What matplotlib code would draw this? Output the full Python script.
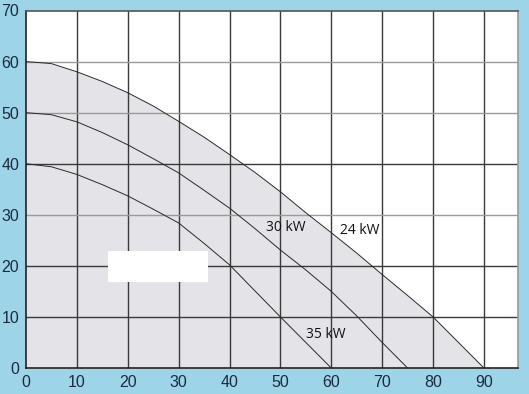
import matplotlib
matplotlib.use("Agg")
import matplotlib.pyplot as plt
from matplotlib.patches import Rectangle

# pump curves (flow vs. head)
x_24kw = [0, 5, 10, 15, 20, 25, 30, 35, 40, 45, 50, 55, 60, 65, 70, 75, 80, 85, 90]
y_24kw = [60, 59.6, 58.0, 56.1, 53.9, 51.3, 48.3, 45.2, 41.8, 38.3, 34.5, 30.4, 26.5, 22.5, 18.3, 14.2, 10.0, 5.0, 0]

x_30kw = [0, 5, 10, 15, 20, 25, 30, 35, 40, 45, 50, 55, 60, 65, 70, 75]
y_30kw = [50, 49.6, 48.2, 46.1, 43.7, 41.0, 38.2, 34.8, 31.3, 27.3, 23.1, 19.2, 15.0, 10.2, 5.0, 0]

x_35kw = [0, 5, 10, 15, 20, 25, 30, 35, 40, 45, 50, 55, 60]
y_35kw = [40, 39.4, 37.9, 35.9, 33.7, 31.1, 28.4, 24.4, 20.2, 15.1, 10.0, 5.0, 0]

labels = ["24 kW", "30 kW", "35 kW"]
label_pos = [(65.6, 27), (51.1, 27.5), (59, 6.5)]

x_ticks = [0, 10, 20, 30, 40, 50, 60, 70, 80, 90]
y_ticks = [0, 10, 20, 30, 40, 50, 60, 70]

bg = "#9dd4e7"
fig = plt.figure(figsize=(5.29, 3.94), dpi=100, facecolor=bg)
ax = fig.add_axes([26 / 529, 26 / 394, 492 / 529, 357.5 / 394])
ax.set_facecolor("white")

ax.set_xlim(0, 96.7)
ax.set_ylim(0, 70)

# grid
for xv in x_ticks[1:]:
    ax.axvline(xv, color="#3a3a3a", lw=1.0, zorder=1)
for yv in y_ticks[1:-1]:
    c = "#9a9a9a" if yv in (30, 50, 60) else "#3a3a3a"
    ax.axhline(yv, color=c, lw=1.0, zorder=1)

ax.fill_between(x_24kw, y_24kw, 0, color="#e4e4e8", zorder=0.5, lw=0)

for xs, ys in [(x_24kw, y_24kw), (x_30kw, y_30kw), (x_35kw, y_35kw)]:
    ax.plot(xs, ys, color="#2a2a2a", lw=0.7, zorder=3)

for txt, (tx, ty) in zip(labels, label_pos):
    ax.text(tx, ty, txt, ha="center", va="center", fontsize=10,
            family="Open Sans", color="#111111", zorder=4)

ax.add_patch(Rectangle((16.1, 16.8), 19.7, 6.1, facecolor="white",
                       edgecolor="none", zorder=5))

ax.set_xticks(x_ticks)
ax.set_yticks(y_ticks)
ax.tick_params(length=0, labelsize=11.5, labelcolor="#1c2b3f", pad=5)
for lab in ax.get_xticklabels() + ax.get_yticklabels():
    lab.set_family("Liberation Sans")

ax.spines["left"].set_color("#222222")
ax.spines["bottom"].set_color("#222222")
ax.spines["top"].set_color("#555555")
ax.spines["right"].set_color("#999999")
for s in ax.spines.values():
    s.set_linewidth(1.2)

fig.savefig("out.png", dpi=100, facecolor=bg)
